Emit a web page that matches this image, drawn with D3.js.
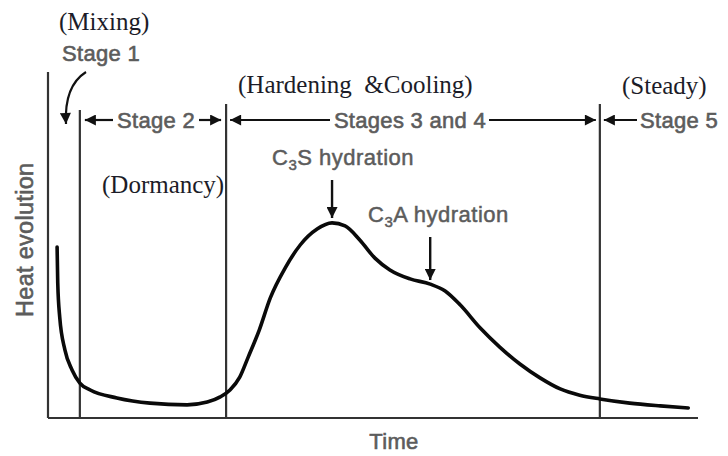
<!DOCTYPE html>
<html><head><meta charset="utf-8">
<script src="https://cdnjs.cloudflare.com/ajax/libs/d3/7.8.5/d3.min.js"></script>
<style>
html,body{margin:0;padding:0;background:#fff;}
svg{display:block;}
</style></head>
<body>
<script>
// ---- data ----
const time = [1.4,1.5,1.8,2.6,3.7,4.9,6.5,10.6,15.7,21.4,24.5,26.5,28.0,29.5,30.8,32.5,34.2,36.5,38.8,41.4,43.7,45.7,48.0,50.3,52.6,55.7,58.8,61.1,63.4,66.5,69.5,72.6,75.7,78.8,81.8,84.9,89.5,94.2,98.5];
const heat = [49.4,39.0,29.2,19.7,13.9,10.1,8.1,5.8,4.3,3.8,4.6,6.1,8.1,11.8,17.6,25.4,34.7,43.4,50.0,54.6,56.4,55.5,51.4,46.2,42.8,40.2,38.7,36.7,32.7,26.0,20.5,15.6,11.6,8.4,6.6,5.5,4.3,3.5,2.9];
const stageBounds = [4.9, 27.4, 84.9];
const peakTimes = [43.7, 58.8];
const peakLabels = ["S hydration", "A hydration"];
const xLabel = "Time";
const yLabel = "Heat evolution";

const W = 728, H = 456;
const svg = d3.select("body").append("svg").attr("width", W).attr("height", H);

const x = d3.scaleLinear().domain([0, 100]).range([48, 698]);
const y = d3.scaleLinear().domain([0, 100]).range([418, 72]);

const defs = svg.append("defs");
defs.append("marker").attr("id", "ah").attr("viewBox", "0 0 10 10")
  .attr("refX", 10).attr("refY", 5).attr("markerUnits", "userSpaceOnUse")
  .attr("markerWidth", 12).attr("markerHeight", 11).attr("orient", "auto")
  .append("path").attr("d", "M0,0 L10,5 L0,10 z").attr("fill", "#111");

const axisCol = "#333";
// axes
svg.append("line").attr("x1", x(0)).attr("x2", x(0)).attr("y1", y(100)).attr("y2", y(0))
  .attr("stroke", axisCol).attr("stroke-width", 2.2);
svg.append("line").attr("x1", x(0)).attr("x2", x(100)).attr("y1", y(0)).attr("y2", y(0))
  .attr("stroke", axisCol).attr("stroke-width", 2.2);

// stage boundaries
const tops = [110, 104, 104];
stageBounds.forEach((t, i) => {
  svg.append("line").attr("x1", x(t)).attr("x2", x(t)).attr("y1", tops[i]).attr("y2", y(0))
    .attr("stroke", axisCol).attr("stroke-width", 2.2);
});

// curve
const pts = time.map((t, i) => [t, heat[i]]);
svg.append("path").datum(pts)
  .attr("d", d3.line().x(d => x(d[0])).y(d => y(d[1])).curve(d3.curveMonotoneX))
  .attr("fill", "none").attr("stroke", "#0a0a0a").attr("stroke-width", 3.6)
  .attr("stroke-linecap", "round").attr("stroke-linejoin", "round");

const sans = "'Liberation Sans', Arial, Helvetica, sans-serif";
const serif = "'Liberation Serif', 'Times New Roman', serif";
const gray = "#5c5c5c";
const dark = "#1c1c28";

function arrow(x1, y1, x2, y2, w) {
  svg.append("line").attr("x1", x1).attr("y1", y1).attr("x2", x2).attr("y2", y2)
    .attr("stroke", "#111").attr("stroke-width", w || 2.2).attr("marker-end", "url(#ah)");
}
function sText(txt, tx, ty, anchor) {
  return svg.append("text").attr("x", tx).attr("y", ty).attr("text-anchor", anchor || "start")
    .attr("font-family", sans).attr("font-size", 22).attr("fill", gray)
    .attr("stroke", gray).attr("stroke-width", 0.6).attr("letter-spacing", 0.3).text(txt);
}
function rText(txt, tx, ty, anchor) {
  return svg.append("text").attr("x", tx).attr("y", ty).attr("text-anchor", anchor || "start")
    .attr("font-family", serif).attr("font-size", 25).attr("fill", dark).text(txt);
}

// Stage row
const ay = 120;
sText("Stage 1", 62, 61);
sText("Stage 2", 156, 128, "middle");
arrow(113, ay, x(stageBounds[0]) + 5, ay);
arrow(199, ay, x(stageBounds[1]) - 5, ay);
sText("Stages 3 and 4", 410, 128, "middle");
arrow(330, ay, x(stageBounds[1]) + 4, ay);
arrow(489, ay, x(stageBounds[2]) - 4, ay);
sText("Stage 5", 640, 128);
arrow(637, ay, x(stageBounds[2]) + 4, ay);

// Stage 1 curved arrow
svg.append("path").attr("d", "M86,72 Q64,86 66,124").attr("fill", "none")
  .attr("stroke", "#111").attr("stroke-width", 2.2).attr("marker-end", "url(#ah)");

// serif notes
rText("(Mixing)", 59, 30);
rText("(Hardening  &Cooling)", 238, 93).style("white-space", "pre");
rText("(Steady)", 622, 94);
rText("(Dormancy)", 102, 193);

// hydration labels
const hy = [165, 222];
const hx = [272, 368];
const sub = ["3", "3"];
peakTimes.forEach((t, i) => {
  const tx = svg.append("text").attr("x", hx[i]).attr("y", hy[i])
    .attr("font-family", sans).attr("font-size", 22).attr("fill", gray)
    .attr("stroke", gray).attr("stroke-width", 0.5).attr("letter-spacing", 0.5);
  tx.append("tspan").text("C");
  tx.append("tspan").attr("dy", 5).attr("font-size", 15).text(sub[i]);
  tx.append("tspan").attr("dy", -5).text(peakLabels[i]);
});
// hydration arrows
arrow(x(peakTimes[0]), 180, x(peakTimes[0]), 218, 2.4);
arrow(x(peakTimes[1]), 237, x(peakTimes[1]), 280, 2.4);

// axis labels
svg.append("text").attr("x", 394).attr("y", 449).attr("text-anchor", "middle")
  .attr("font-family", sans).attr("font-size", 22).attr("fill", gray)
  .attr("stroke", gray).attr("stroke-width", 0.6).attr("letter-spacing", 0.3).text(xLabel);
svg.append("text").attr("transform", "translate(33,317) rotate(-90)")
  .attr("font-family", sans).attr("font-size", 23.5).attr("fill", gray)
  .attr("stroke", gray).attr("stroke-width", 0.6).attr("letter-spacing", 0.3).text(yLabel);
</script>
</body></html>
